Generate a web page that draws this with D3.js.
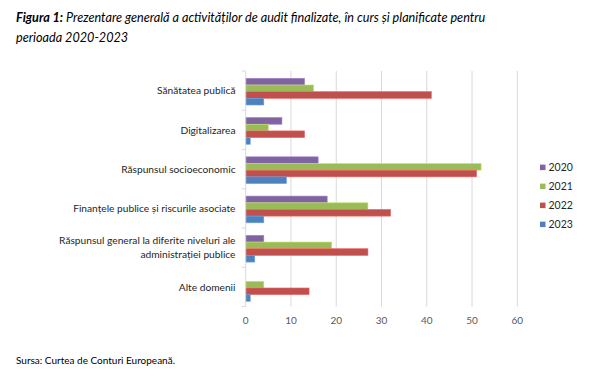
<!DOCTYPE html>
<html><head><meta charset="utf-8">
<script src="https://cdn.jsdelivr.net/npm/d3@7"></script>
<style>
html,body{margin:0;padding:0;background:#fff;}
svg{display:block;}
</style></head>
<body>
<svg id="chart" width="599" height="380"></svg>
<script>
const categories = [
  ["Sănătatea publică"],
  ["Digitalizarea"],
  ["Răspunsul socioeconomic"],
  ["Finanțele publice și riscurile asociate"],
  ["Răspunsul general la diferite niveluri ale", "administrației publice"],
  ["Alte domenii"]
];
const years = ["2020", "2021", "2022", "2023"];
const values2020 = [13, 8, 16, 18, 4, 0];
const values2021 = [15, 5, 52, 27, 19, 4];
const values2022 = [41, 13, 51, 32, 27, 14];
const values2023 = [4, 1, 9, 4, 2, 1];
const xTicks = [0, 10, 20, 30, 40, 50, 60];
const colors = ["#8064A2", "#9BBB59", "#C0504D", "#4F81BD"];

const series = [values2020, values2021, values2022, values2023];
const svg = d3.select("#chart");
const font = "Lato, 'Open Sans', sans-serif";

// Title
const title = svg.append("text").attr("x", 16).attr("y", 22)
  .attr("font-family", font).attr("font-size", 12.65).attr("font-style", "italic").attr("fill", "#000");
title.append("tspan").attr("font-weight", "bold").text("Figura 1:");
title.append("tspan").text(" Prezentare generală a activităților de audit finalizate, în curs și planificate pentru");
svg.append("text").attr("x", 16).attr("y", 42)
  .attr("font-family", font).attr("font-size", 12.65).attr("font-style", "italic").attr("fill", "#000")
  .text("perioada 2020-2023");

// Scales
const x = d3.scaleLinear().domain([0, 60]).range([245.7, 517.3]);
const catIdx = categories.map((c, i) => i);
const y = d3.scaleBand().domain(catIdx).range([71, 306.6]).padding(0);
const ySub = d3.scaleBand().domain(years).range([7.3, 34]).padding(0);

// Gridlines
svg.append("g").selectAll("line").data(xTicks.slice(1)).join("line")
  .attr("x1", d => x(d)).attr("x2", d => x(d))
  .attr("y1", 71).attr("y2", 306.6)
  .attr("stroke", "#d9d9d9").attr("stroke-width", 1);

// Bars
const groups = svg.append("g").selectAll("g").data(catIdx).join("g")
  .attr("transform", d => `translate(0,${y(d)})`);
groups.selectAll("rect").data(i => years.map((yr, k) => ({yr, k, v: series[k][i]})))
  .join("rect")
  .attr("x", x(0))
  .attr("y", d => ySub(d.yr))
  .attr("width", d => Math.max(0, x(d.v) - x(0)))
  .attr("height", ySub.bandwidth())
  .attr("fill", d => colors[d.k])
  .attr("stroke", d => d.v > 0 ? d3.color(colors[d.k]).brighter(0.6) : "none")
  .attr("stroke-width", 0.6);

// Y axis line and ticks
svg.append("line").attr("x1", x(0)).attr("x2", x(0)).attr("y1", 71).attr("y2", 306.6)
  .attr("stroke", "#d9d9d9").attr("stroke-width", 1);
svg.append("g").selectAll("line").data(d3.range(7)).join("line")
  .attr("x1", x(0) - 4).attr("x2", x(0))
  .attr("y1", i => 71 + i * y.bandwidth()).attr("y2", i => 71 + i * y.bandwidth())
  .attr("stroke", "#d9d9d9").attr("stroke-width", 1);

// Category labels
const lab = svg.append("g").selectAll("text").data(catIdx).join("text")
  .attr("font-family", font).attr("font-size", 10.2).attr("fill", "#262626")
  .attr("text-anchor", "end");
lab.each(function(i) {
  const lines = categories[i];
  const cy = y(i) + y.bandwidth() / 2;
  const lh = 14;
  lines.forEach((t, j) => {
    d3.select(this).append("tspan").attr("x", 235.5)
      .attr("y", cy + (j - (lines.length - 1) / 2) * lh + 3.6)
      .text(t);
  });
});

// X axis tick labels
svg.append("g").selectAll("text").data(xTicks).join("text")
  .attr("x", d => x(d)).attr("y", 324)
  .attr("text-anchor", "middle")
  .attr("font-family", font).attr("font-size", 10).attr("fill", "#595959")
  .text(d => d);

// Legend
const leg = svg.append("g").selectAll("g").data(years).join("g")
  .attr("transform", (d, i) => `translate(540,${167.3 + i * 19})`);
leg.append("rect").attr("x", 0).attr("y", -2.7).attr("width", 5.5).attr("height", 5.5)
  .attr("fill", (d, i) => colors[i]);
leg.append("text").attr("x", 8.5).attr("y", 3.7)
  .attr("font-family", font).attr("font-size", 10.5).attr("fill", "#262626")
  .text(d => d);

// Source
svg.append("text").attr("x", 16).attr("y", 364)
  .attr("font-family", font).attr("font-size", 10).attr("fill", "#000")
  .text("Sursa: Curtea de Conturi Europeană.");
</script>
</body></html>
